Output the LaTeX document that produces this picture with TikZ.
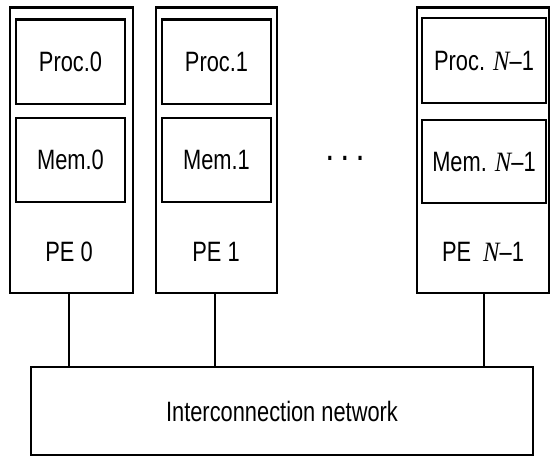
\documentclass[tikz,border=0pt]{standalone}
\usepackage{fontspec}
\setmainfont{Liberation Sans}[FakeStretch=0.78]
\newfontfamily\nfont{Liberation Serif}[FakeStretch=0.88]
\newcommand{\NN}{{\nfont\itshape N}}
\begin{document}
\begin{tikzpicture}[x=1pt,y=-1pt,
  pebox/.style={draw, line width=2.8pt, inner sep=0pt},
  unitbox/.style={draw, line width=2.6pt, inner sep=0pt, font=\fontsize{28}{30}\selectfont},
  lbl/.style={inner sep=0pt, font=\fontsize{28}{30}\selectfont},
  link/.style={line width=2.2pt}]
\useasboundingbox (0,0) rectangle (553,467);
% PE 0
\node[pebox, minimum width=123pt, minimum height=285.5pt] (pe0) at (71.5,150.25) {};
\node[unitbox, minimum width=109pt, minimum height=84.5pt] (p0) at (70.5,61.75) {Proc.0};
\node[unitbox, minimum width=109pt, minimum height=84pt] (m0) at (70.5,160) {Mem.0};
\node[lbl] (l0) at (69,252) {PE 0};
% PE 1
\node[pebox, minimum width=121pt, minimum height=285.5pt] (pe1) at (216.5,150.25) {};
\node[unitbox, minimum width=109pt, minimum height=84.5pt] (p1) at (216.5,61.75) {Proc.1};
\node[unitbox, minimum width=109pt, minimum height=84pt] (m1) at (216.5,160) {Mem.1};
\node[lbl] (l1) at (216,252) {PE 1};
% PE N-1
\node[pebox, minimum width=132pt, minimum height=285.5pt] (pen) at (483,150.25) {};
\node[unitbox, minimum width=124pt, minimum height=85pt] (pn) at (484,60.5) {Proc. \NN–1};
\node[unitbox, minimum width=124pt, minimum height=83pt] (mn) at (484,161.5) {Mem. \NN–1};
\node[lbl] (ln) at (483,252) {PE\hspace{12pt}\NN–1};
% dots
\node[lbl, anchor=base] (dots) at (345,160) {\textbf{.}\hspace{9pt}\textbf{.}\hspace{9pt}\textbf{.}};
% network
\node[pebox, minimum width=502pt, minimum height=88pt, font=\fontsize{28}{30}\selectfont] (net) at (282,411) {Interconnection network};
% links
\draw[link] (pe0.south) ++(-2.5,0) coordinate (a0) -- (a0 |- net.north);
\draw[link] (pe1.south) ++(-1.5,0) coordinate (a1) -- (a1 |- net.north);
\draw[link] (pen.south) ++(1,0) coordinate (an) -- (an |- net.north);
\end{tikzpicture}
\end{document}
